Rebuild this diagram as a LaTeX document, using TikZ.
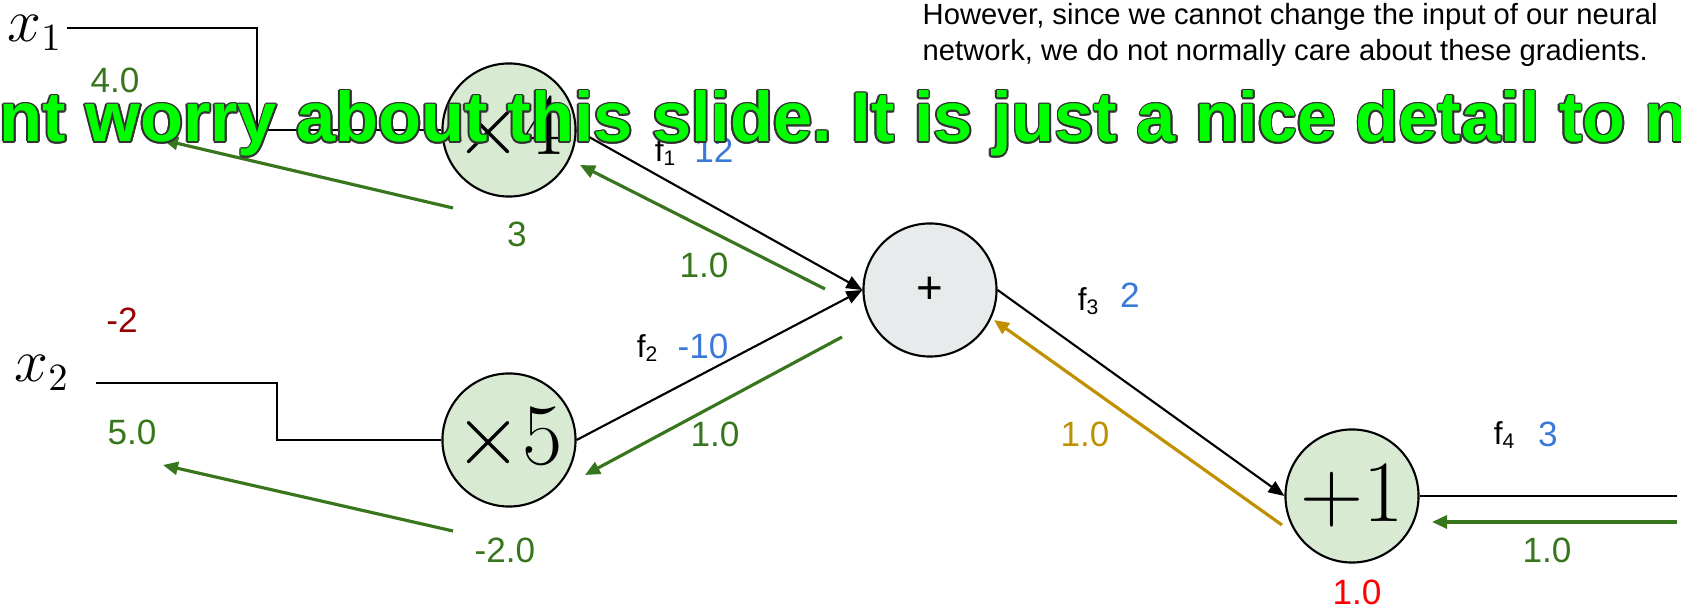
\documentclass[tikz,border=0pt]{standalone}
\usepackage[no-math]{fontspec}
\setmainfont{Liberation Sans}
\usepackage{xcolor}
\usetikzlibrary{arrows.meta,positioning,calc}

\definecolor{gradgreen}{HTML}{38761D}
\definecolor{valblue}{HTML}{3C78D8}
\definecolor{valred}{HTML}{990000}
\definecolor{gradgold}{HTML}{BF9000}
\definecolor{gatefill}{HTML}{D9EAD3}
\definecolor{addfill}{HTML}{E8EBEC}
\definecolor{neon}{HTML}{00FF00}
\definecolor{rim}{HTML}{333333}

\newcommand{\warntext}{nt worry about this slide. It is just a nice detail to n}

\begin{document}
\frenchspacing
\begin{tikzpicture}[x=0.01cm,y=-0.01cm,>=Latex,
  gate/.style={draw,circle,line width=0.6pt,fill=gatefill,minimum size=1.33cm,inner sep=0pt,font=\fontsize{23}{23}\selectfont},
  wire/.style={line width=0.6pt},
  fwd/.style={wire,-{Triangle[length=0.16cm,width=0.13cm]}},
  grad/.style={line width=0.9pt,gradgreen,-{Triangle[length=0.15cm,width=0.13cm]}},
  lbl/.style={font=\fontsize{10}{12}\selectfont,inner sep=0pt},
  fname/.style={font=\fontsize{9}{11}\selectfont,inner sep=0pt},
  invar/.style={font=\fontsize{16}{16}\selectfont,inner sep=1pt},
  warn/.style={anchor=base west,inner sep=0pt,font=\fontsize{20}{20}\selectfont\bfseries}]
\useasboundingbox (0,0) rectangle (1681,616);

% gates
\node[gate] (mulA) at (509,130) {$\times 4$};
\node[gate] (mulB) at (509,440) {$\times 5$};
\node[gate,fill=addfill,font=\fontsize{13}{13}\selectfont] (add) at (930,290) {+};
\node[gate] (inc) at (1352,496) {$+1$};

% inputs
\node[invar] (xone) at (35,33) {$x_1$};
\node[invar] (xtwo) at (42,373) {$x_2$};
\coordinate (out) at (1677,496);

% forward pass
\draw[wire] ([yshift=0.05cm]xone.east) -- ++(190,0) |- (mulA.west);
\draw[wire] ([xshift=0.22cm,yshift=-0.1cm]xtwo.east) -- ++(181,0) |- (mulB.west);
\draw[fwd] (mulA.east) -- (add.west);
\draw[fwd] (mulB.east) -- (add.west);
\draw[fwd] (add.east) -- (inc.west);
\draw[wire] (inc.east) -- (out);

% backward pass
\coordinate (gxoneA) at (453,208);  \coordinate (gxoneB) at (163,140);
\coordinate (gxtwoA) at (453,531);  \coordinate (gxtwoB) at (163,465);
\coordinate (gmulAA) at (825,289);  \coordinate (gmulAB) at (580,165);
\coordinate (gmulBA) at (842,337);  \coordinate (gmulBB) at (585,475);
\coordinate (gaddA) at (1282,525);  \coordinate (gaddB) at (994,320);
\coordinate (gincA) at (1677,522);  \coordinate (gincB) at (1432,522);
\draw[grad] (gxoneA) -- (gxoneB);
\draw[grad] (gxtwoA) -- (gxtwoB);
\draw[grad] (gmulAA) -- (gmulAB);
\draw[grad] (gmulBA) -- (gmulBB);
\draw[grad,gradgold] (gaddA) -- (gaddB);
\draw[grad] (gincA) -- (gincB);

% values and gradients
\node[lbl,gradgreen] (dxone) at (115,80) {4.0};
\node[lbl,valred] (vxtwo) at (122,320) {-2};
\node[lbl,gradgreen] (dxtwo) at (132,432) {5.0};
\node[lbl,gradgreen] (dmulA) at (517,234) {3};
\node[lbl,gradgreen] (dmulB) at (505,550) {-2.0};
\node[fname] (fone) at (666,152) {f\textsubscript{1}};
\node[lbl,valblue] (vone) at (714,150) {12};
\node[lbl,gradgreen] (done) at (704,265) {1.0};
\node[fname] (ftwo) at (648,348) {f\textsubscript{2}};
\node[lbl,valblue] (vtwo) at (703,346) {-10};
\node[lbl,gradgreen] (dtwo) at (715,434) {1.0};
\node[fname] (fthree) at (1089,301) {f\textsubscript{3}};
\node[lbl,valblue] (vthree) at (1130,295) {2};
\node[lbl,gradgold] (dthree) at (1085,434) {1.0};
\node[fname] (ffour) at (1505,435) {f\textsubscript{4}};
\node[lbl,valblue] (vfour) at (1548,434) {3};
\node[lbl,gradgreen] (dfour) at (1547,550) {1.0};
\node[lbl,red] (dout) at (1357,592) {1.0};

% note
\node[anchor=north west,align=left,inner sep=0pt,font=\fontsize{8.3}{10}\selectfont] (note) at (922,3)
  {However, since we cannot change the input of our neural\\network, we do not normally care about these gradients.};

% overlay
\foreach \a in {0,30,...,330}
  \node[warn,text=rim] (rim\a) at ($(-1,142)+(\a:0.5pt)$) {\warntext};
\node[warn,text=neon] (warn) at (-1,142) {\warntext};
\end{tikzpicture}
\end{document}
